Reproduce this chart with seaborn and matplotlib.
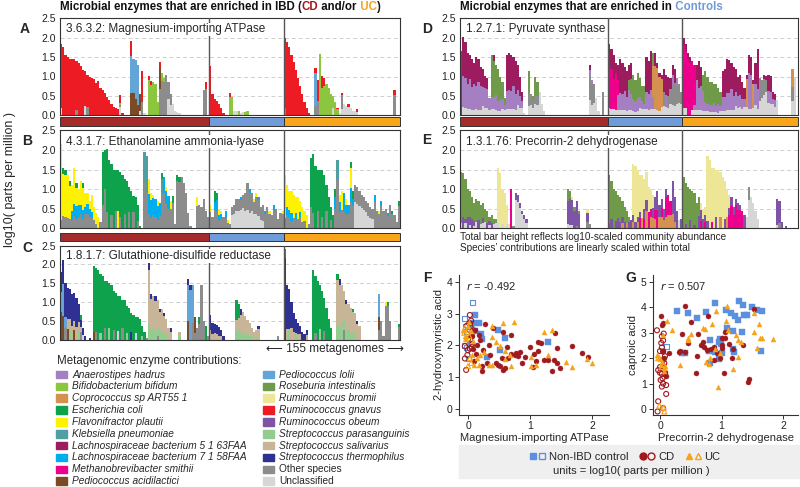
import re
import numpy as np
import pandas as pd
import matplotlib
matplotlib.use("Agg")
import matplotlib.pyplot as plt
import seaborn as sns
from matplotlib.patches import Rectangle
from matplotlib.lines import Line2D
from matplotlib.legend_handler import HandlerTuple

sns.set_theme(style="white")
plt.rcParams["font.family"] = ["Liberation Sans", "DejaVu Sans"]

W, H = 800, 487

# species code -> (legend name, colour)
SPECIES = {
    "a": ("Anaerostipes hadrus", "#a47fc2"),
    "b": ("Bifidobacterium bifidum", "#8cc63e"),
    "c": ("Coprococcus sp ART55 1", "#d4914f"),
    "e": ("Escherichia coli", "#0fa24c"),
    "f": ("Flavonifractor plautii", "#fff200"),
    "k": ("Klebsiella pneumoniae", "#4f9ea2"),
    "l": ("Lachnospiraceae bacterium 5 1 63FAA", "#9d1c5f"),
    "m": ("Lachnospiraceae bacterium 7 1 58FAA", "#00aeef"),
    "M": ("Methanobrevibacter smithii", "#ec008c"),
    "p": ("Pediococcus acidilactici", "#7a4b25"),
    "P": ("Pediococcus lolii", "#64a5d7"),
    "r": ("Roseburia intestinalis", "#6f9a49"),
    "B": ("Ruminococcus bromii", "#eee697"),
    "g": ("Ruminococcus gnavus", "#ed1c24"),
    "o": ("Ruminococcus obeum", "#7e55a6"),
    "s": ("Streptococcus parasanguinis", "#93cc8f"),
    "S": ("Streptococcus salivarius", "#c8b597"),
    "t": ("Streptococcus thermophilus", "#2e3192"),
    "x": ("Other species", "#8c8c8c"),
    "u": ("Unclassified", "#d6d6d6"),
}
LEGEND_ORDER = list("abcefklmMpPrBgosStxu")
STACK_ORDER = list("uxpPksSacMomfrBltebg")   # bottom -> top

GROUP_N = [68, 34, 53]          # CD, non-IBD, UC metagenomes
STRIP_COLORS = ["#a52a2a", "#6f9bd8", "#f8a51c"]

# each bar: "height:composition" (composition = species code + relative weight, bottom->top)
A_CD = """1.84:u1g9 1.77:g 1.55:g 1.50:g 1.46:g 1.45:g 1.45:g 1.40:x1g9 1.35:g 1.28:g
1.18:g 1.15:u2g8 1.05:x2g8 1.00:g 0.95:g 0.93:g 0.82:g 0.89:g 0.70:g 0.66:g
0.58:g 0.48:g 0.40:g 0.30:g 0.22:g 0.18:g 0.15:g 0.52:u4x1b1g4 0.07:g 0 0 0
1.92:p3P5g2 1.45:p4P6 1.42:p3P7 1.30:p2P8 0.55:p8u2 1.15:x3g7 0.05:u 0.02:u
1.02:b9g1 0.88:b9g1 0.85:b 0.80:b 0.35:b 1.38:p4x5g1 1.10:x8b2 0.95:x9b1 1.03:x
0.85:u5x5 0.55:u5x5 0.30:u 0.10:u 0.08:u 0.05:u 0 0 0 0 0 0 0 0 0 0 0.65:x 0.85:x8g2 0"""
A_CTRL = """1.28:g 0.55:g 0.42:g 0.38:g 0.28:g 0.20:g 0.05:g 0 0 0.58:b8g2 0.48:b
0.10:u 0.12:u 0.10:b 0.05:u 0.08:u 0.08:b 0.10:b"""
A_UC = """2.00:x1g9 1.88:g 1.75:g 1.55:g 1.38:g 1.18:g 0.95:g 0.75:g 0.55:g 0.35:g 0.18:g
0.05:g 0 0 1.22:x2P7g1 0.90:x4g6 1.58:b 1.02:b7g3 0.95:b8g2 0.80:b 0.70:b 0.55:b
0.50:u4b6 0.35:b 0.20:b8g2 0.05:u 0.58:x6u3g1 0.30:u 0.25:u 0.30:u7g3 0.18:u 0.10:u
0.10:u 0.15:u6g4 0 0 0 0 0 0 0 0 0 0 0 0 0 0 0 0 0.65:x8g2 0 0"""

B_CD = """2.15:x1f9 1.55:x2f7e1 1.50:x2f7e1 1.35:x2f8 1.20:x2f7e1 1.10:x2m2f6 1.55:x2m2f6
1.15:x2m3f4e1 1.00:x3m3f4 1.20:x3m2f5 1.15:x2m2f5e1 0.90:x4m2f4 0.90:x4m3f3 0.70:x4m3f3
0.85:x3m2f5 0.55:x4f6 0.40:x3f7 0.30:f 0.15:x 1.95:x3e7 2.00:x5e5 2.02:x2e8 1.75:e
1.65:x2e8 1.50:e 1.48:x3e7 1.48:f3e7 1.45:x2e8 1.35:e 1.25:x3e7 1.20:e 1.05:x4e6 0.95:e
0.82:x5e5 0.80:e 0.60:x3e7 0.05:e 0 1.95:x6k4 1.85:x5k5 1.25:x3m4f3 0.90:x3m5f2
0.85:x4m5f1 0.75:x4m6 0.70:x3m5f2 0.65:x5m5 1.40:x6k3e1 1.30:x7m3 1.05:x6m3f1 0.82:x6m4
0.70:x7f3 0.82:x8e2 0.10:x 1.35:x9e1 1.30:x9e1 1.30:x 1.15:x 0.90:x 0.40:x 0.05:x 0 0
0.80:x7f3 0.60:x 0.55:x 0.75:x 0.45:x 0.30:x"""
B_CTRL = """0.60:x7f3 0.30:x 0.95:x5m2e3 0.90:x5m3e2 0.50:x4m3f3 0.45:x5m3f2 0.30:x 0.45:x6m4
0.20:x7f3 0.10:x 0.55:u6x4 0.60:u6x4 0.75:u6x4 0.75:u6x4 0.80:u6x3m1 0.85:u6x4 0.90:u5x5
1.15:u4x6 1.00:u4x5m1 0.90:u5x5 0.75:u5x4f1 0.90:u4x5f1 0.80:u4x5m1 0.55:u4x6 0.60:u3x7
0.45:x8m2 0.55:x 0.45:x8f2 0.35:x 0.60:x8m2 0.50:x 0.25:x 0.40:x 0.45:x8f2"""
B_UC = """1.35:x2f8 1.10:x3m2f5 0.95:x3m2f5 0.95:x2m2f6 0.85:x3f7 0.80:x3m2f5 0.80:x3f7
0.70:x4m2f4 0.55:x3f7 0.45:x4f6 0.35:f 0.10:x 1.80:x3e7 1.90:x2e8 1.60:e 1.50:x3e7 1.50:e
1.50:x2e8 1.35:e 1.10:x4e6 0.80:e 0.55:x4e6 0.35:e 1.00:x5m3e2 1.75:x7k3 0.85:x5m3f2
0.95:x5f5 0.90:x5m5 0.75:x5m3f2 0.60:x6m4 1.70:x4m2f3e1 0.95:x6m2e2 1.10:u6x4 1.05:u6x4
0.95:u6x4 0.85:u6x4 0.80:u6x4 0.70:u6x4 0.65:u5x5 0.55:u5x5 0.50:u5x5 0.85:x8m2 0.45:x
0.45:x8f2 0.70:x8m2 0.45:x 0.50:x 0.40:x8m2 0.60:x 0.45:x8e2 0.35:x 0.15:x 0.70:x8e2"""

C_CD = """1.80:p4P3t3 2.12:p3P4t3 1.50:x2P2t6 1.38:p2S2t6 1.35:s2S2t6 1.20:S3t7 1.25:p2S2t6
1.10:S3t7 0.95:s2S3t5 0.65:x3S2t3e2 0.30:u4t6 0.08:t 0 0.05:t 0 1.95:p1e9 1.90:x1e9 1.85:e
1.75:s1e9 1.70:e 1.55:x2e8 1.55:e 1.50:s2e8 1.45:e 1.30:x2e8 1.25:e 1.15:u2e8 1.15:e
1.05:x3e7 1.05:e 0.90:s2e8 0.85:e 0.70:t3e7 0.65:e 0.60:u3e7 0.60:e 0.55:e 0.35:s3e7 0.20:e
0.05:x 2.05:s2S7t1 1.20:s2S7t1 1.15:s3S7 1.15:s2S7t1 1.05:x1s2S7 0.80:s3S6t1 0.80:s2S8
0.70:s2S7t1 0.55:s3S7 0.30:S 0.30:S7t3 0 0 0 0.20:s5S5 0 0 0 1.60:p3P6t1 1.45:P9t1
1.45:x3P7 0.60:p7x3 0.30:x 0.60:x7e3 1.45:x 0.50:x 0.35:e 0.10:x"""
C_CTRL = """0.65:S4t6 0.45:S3t7 0.42:S4t6 0.38:S4t6 0.32:S3t7 0.25:S4t6 0.10:t 0 0 0 0 0
1.05:s2S3e5 0.95:s3S3e4 0.82:s2S6t2 0.72:s3S7 0.62:s2S8 0.52:s3S7 0.45:s2S8 0.30:s3S7
0.20:S 0.25:s3S7 0.35:S8t2 0 0 0 0 0 0 0 0 0.10:x"""
C_UC = """2.42:t9e1 1.45:S2t8 1.35:s2t8 1.00:S3t7 0.70:S3t7 0.55:s3t7 0.45:S3t7 0.35:S4t6
0.20:t 0.15:t 0.25:S5t5 0 0 1.85:e 1.70:x1e9 1.55:e 1.45:s2e8 1.30:e 1.10:x2e8 0.85:e
0.55:e 0.30:e 0 0 1.75:s2S7e1 1.60:s2S7t1 1.45:s3S7 1.30:x2s2S6 1.05:s2S7t1 0.95:s3S7
0.85:s2S8 0.80:s2S7e1 0.70:s3S7 0.50:S8t2 0.35:S 0 0 0 0 0 0 0 0 1.20:p3x2P5 0.50:x
0.10:x 1.00:x9f1 1.00:x9e1 0.50:x 0 0 0 0.40:x8e2"""

D_CD = """1.65:M 2.02:u1a4l5 1.90:u1a4l5 1.60:u1a4l5 1.55:u1a5l4 1.45:u1a4l5 1.35:u1a5l4
1.50:u1a4l5 1.45:u1a5l4 1.25:u1a5l4 1.20:u2a4l4 1.00:u2a5l3 0.95:u2a5l3 0.45:u3a7
1.55:u1a2r7 1.55:u1a2r6l1 1.30:u1a3r6 1.20:u1a2r7 1.00:u1a3r6 0.85:u2a3r5 0.45:u3a3r4
1.55:u1a3l6 1.60:u1a3l6 1.55:u1a3l6 1.50:u1a4l5 1.40:u1a3l6 1.30:u2a3l5 1.00:u2a3l5
0.60:u3a3l4 0.05:u 0 1.15:u2x3r5 0.55:u5x5 0.50:u4x4r2 1.00:u3x2r5 0.85:u3x3r4 0.60:u
0.30:u 0.10:u 0 0 0 0 0 0 0 0 0 0 0 0 0 0 0 0 0 0 0 0 1.30:u3x5a1l1 0.90:u3x6a1
0.80:u4x6 0.45:u 0.10:u 0 0.60:x 0 0"""
D_CTRL = """1.85:u1M6l3 1.70:u1M6l3 1.55:u1M5l4 1.35:u1M7l2 1.30:u1a3M3l3 1.45:u1a3l6
1.35:u1a3l6 1.25:u1a4l5 1.15:u1a3l6 1.30:u1a4r2l3 1.35:u1a3r3l3 1.05:u1a3r6 0.90:u1a3r6
1.10:u1a3r6 0.95:u2a3r5 0.75:u2a3r5 0.75:u2a2r6 1.50:u1a3l6 1.40:u1a3l6 1.65:u1a3l6
1.60:u1a2c5r2 1.60:u1c7l2 1.35:u1c8l1 1.10:u1c8l1 1.05:u2c7l1 1.20:u2x3l5 1.05:u2a3l5
1.00:u2x3l5 0.95:u3x4l3 1.30:u2x4a2l2 1.20:u2x5l3 0.95:u3x5a2 0.80:u4x6 0.60:u5x5"""
D_UC = """1.98:u1M8l1 1.85:u1M8l1 1.60:M9l1 1.50:M9l1 1.40:u1M9 1.30:u1M8a1 1.30:u1a6l3
1.40:u1a4l5 1.25:u1a5l4 1.05:u1a5r4 1.15:u1a2r7 1.00:u1a2r7 0.85:u1a2r7 0.85:u1a2r7
0.80:u1a3r6 0.80:u1a2r7 0.70:u1a3r6 0.60:u2a2r6 1.15:u1a3l6 1.20:u1a3l6 1.45:u1a3l6
1.42:u1a3l6 1.35:u1a4l5 1.25:u1a3l6 1.20:u2a3l5 1.00:u2a3l5 1.05:u2a3l5 0.85:u2a3l5
0.70:u3a3l4 1.05:u2c7l1 1.55:u1a6l3 1.50:u1a6l3 0.90:u2c7l1 1.35:u2a4l4 1.70:u1a3l6
0.95:u4x6 0.90:u5x5 1.05:u5x4l1 1.00:u6x3l1 1.05:u3a3l4 1.00:u3a3l4 0.60:u5a2l3 0.55:u4a3l3
0.40:u 0 0 0 0 0 0 1.20:u3x3c4 1.00:u 0"""

E_CD = """1.45:u1r9 1.40:o2r8 1.25:u1o1r8 1.00:o3r7 0.95:u1o2r7 0.80:o3r7 0.65:u1o2r7 0.75:u2r8
0.70:o3r7 0.60:u2r8 0.65:u2o2r6 0.50:u3r7 0.45:o3r7 0.30:u3o3r4 0.35:o4r6 0.25:u4r6
0.25:u5r5 1.55:u1B9 1.40:B 1.00:u1B9 0.90:B 0.60:u2B8 0.10:B 1.00:M 0.05:x 0.90:u8o2
0.85:u8o2 0.65:u8o2 0.45:u8o2 0.35:u7o3 0.25:u5o5 0 0 0 0 0 0 0 0 0 0 0 0 0 0 0 0 0 0
1.00:u1o6r3 0.95:u1o7r2 0.80:u1o8B1 0.55:o8r2 0.70:x1o9 0.45:o8r2 0 0 0 0.50:x3o5B2
0.10:x 0 0 0 0.02:o"""
E_CTRL = """1.35:o1r9 1.20:o2r8 1.00:r 0.95:o2r8 0.85:o3r7 0.80:o2r8 0.70:c2o2r6 0.55:o3r7
0.45:c3r7 0.30:o5r5 0.20:o 1.65:o1c1B8 1.60:o1B9 1.50:c1o1B8 1.35:M2o1B7 1.35:c2B8
1.25:o2M2B6 1.45:c3o2B5 1.05:M4B6 1.00:c3M2B5 0.85:o3c3B4 0.80:c3M3o4 0.95:M5o5 0.60:c5o5
0.75:c4M3o3 0.50:c4o6 1.00:c3M5o2 0.85:c4M6 0.70:c5M5 1.20:c3o7 0.80:c2o8 0.45:o 0.20:u
0.25:o"""
E_UC = """1.30:r 1.15:o1r9 1.05:r 1.00:o2r8 0.95:r 0.90:o1r9 0.65:r 0.80:o4r6 0.65:M3o4B3
0.50:o5B5 0.55:M3o3B4 1.85:o1B9 1.75:B 1.55:M1B9 1.55:B 1.50:o2B8 1.50:B 1.45:c2B8 1.30:B
1.20:o2B8 1.00:c3B7 0.85:M4o2B4 0.80:M7o3 0.55:M6o4 0.75:M8o2 0.65:M7o3 0.60:M8o2 0.45:M
0.35:o 0.30:u 1.05:u7x3 0.80:u 0.65:u 0.45:u 0.25:u 0 0 0 0 0 0 0 0 0.75:u1o9 0.70:o8x2
0.15:o 0 0.05:o"""

# scatter data (log10 ppm); "0" suffix = open markers
F_CTRL_X = [0.11, 0.21, 0.23, 0.31, 0.49, 0.51, 0.60, 1.28, 0.05, 0.12, 0.08, 0.18]
F_CTRL_Y = [2.96, 2.36, 2.20, 1.65, 2.49, 1.86, 2.25, 2.11, 2.60, 2.45, 2.70, 2.70]
F_CTRL0_X = [0.07, -0.05, -0.03, 0.00, -0.04, 0.02, 0.04, -0.02, 0.05, -0.05]
F_CTRL0_Y = [3.34, 2.85, 2.43, 1.58, 2.60, 2.20, 2.05, 1.95, 2.50, 2.00]
F_CD_X = [0.03, 0.27, 0.17, 0.20, 0.33, 0.23, 0.23, 0.40, 0.56, 0.70, 0.54, 0.49, 0.52,
          0.57, 0.60, 0.65, 0.69, 0.76, 0.78, 0.80, 0.83, 0.87, 0.92, 1.04, 1.06, 1.12,
          1.09, 1.12, 1.17, 1.22, 1.28, 1.36, 1.39, 1.40, 1.44, 1.44, 1.48, 1.68, 1.83,
          1.93, 0.08, 0.13, 0.10, 0.24, 0.36, 0.45, 0.62, 1.00, 0.15, 0.07, 0.12, 0.30]
F_CD_Y = [2.70, 2.69, 2.33, 2.17, 2.00, 1.34, 1.20, 2.54, 2.43, 2.33, 1.60, 1.39, 1.34,
          1.23, 1.28, 1.60, 1.73, 1.69, 1.75, 1.66, 1.79, 1.44, 1.65, 1.32, 1.72, 1.84,
          1.50, 2.10, 2.09, 1.55, 1.55, 1.20, 1.55, 2.40, 1.91, 1.44, 1.28, 1.98, 1.75,
          1.63, 1.90, 1.72, 1.50, 1.85, 1.70, 1.45, 1.95, 1.95, 2.00, 2.30, 2.50, 1.45]
F_CD0_X = [0.03, 0.02, 0.05, -0.05, -0.05, -0.03, 0.00, 0.03, 0.06, 0.00, 0.03, 0.06,
           -0.02, 0.04, 0.07, -0.01]
F_CD0_Y = [2.96, 2.70, 2.78, 1.98, 1.59, 1.23, 2.20, 2.48, 2.30, 1.85, 1.90, 1.95,
           2.62, 2.58, 2.05, 1.70]
F_UC_X = [0.38, 0.57, 0.74, 0.39, 0.51, 0.60, 0.60, 0.33, 0.38, 0.19, 0.17, 0.68, 1.02,
          1.02, 1.23, 1.36, 1.28, 1.58, 1.68, 1.91, 2.00, -0.08, -0.05, 0.00, 0.02, 0.05,
          -0.03, 0.08, 0.06, 0.10, 0.14, 0.26, 0.70, 0.45, 1.10]
F_UC_Y = [2.61, 2.72, 2.73, 2.26, 1.98, 1.83, 1.57, 1.39, 1.37, 1.70, 1.40, 1.70, 1.65,
          1.36, 2.43, 2.49, 1.70, 1.49, 1.31, 1.57, 1.46, 2.50, 2.30, 2.60, 2.75, 2.45,
          2.20, 2.15, 1.70, 1.40, 1.60, 1.80, 1.35, 2.10, 1.40]
F_UC0_X = [-0.06, -0.03, -0.05, 0.00, 0.02, 0.05, 0.00, 0.03]
F_UC0_Y = [2.40, 2.20, 2.55, 2.50, 2.30, 1.45, 1.35, 1.60]

G_CTRL_X = [0.27, 0.46, 0.60, 0.75, 0.90, 1.07, 1.15, 1.22, 1.26, 1.29, 1.34, 1.37, 1.42,
            1.50, 1.57, 1.65, 1.08, 1.18, 1.33, 0.81, 0.96, 0.98, 0.99, 0.89, 0.79, 1.18,
            1.20, 0.81, 0.95, 0.35, 1.64, 0.40, 1.00]
G_CTRL_Y = [3.85, 3.78, 3.59, 3.81, 4.19, 3.91, 3.78, 3.65, 3.49, 4.25, 4.08, 3.72, 3.72,
            4.02, 3.91, 3.85, 3.19, 3.06, 3.04, 2.71, 2.64, 2.77, 2.54, 2.25, 2.29, 2.38,
            2.25, 1.82, 1.98, 2.19, 2.28, 2.20, 2.20]
G_CTRL0_X = [0.10]
G_CTRL0_Y = [2.45]
G_CD_X = [0.02, 0.05, 0.41, 0.51, 0.78, 0.35, 0.61, 0.45, 0.66, 0.70, 0.72, 0.76, 0.82,
          0.33, 0.41, 0.14, 0.60, 0.58, 1.04, 0.88, 0.93, 1.00, 1.00, 1.12, 1.18, 1.34,
          1.17, 0.98, 1.44, 1.43, 1.52, 1.06, 1.06, 0.87, 0.30, 1.00, 0.05, 0.08, 0.07,
          0.10, 0.04]
G_CD_Y = [3.66, 3.40, 4.06, 3.42, 3.65, 2.94, 2.94, 2.58, 2.51, 2.64, 2.45, 2.32, 2.35,
          2.28, 2.25, 2.19, 2.08, 1.43, 1.40, 1.92, 2.20, 2.51, 2.81, 2.55, 2.38, 2.51,
          2.02, 1.99, 1.18, 1.07, 3.95, 3.04, 2.78, 2.45, 2.25, 2.40, 2.30, 1.45, 2.00,
          1.30, 3.30]
G_CD0_X = [-0.05, 0.03, 0.05, 0.03, 0.00, 0.05, 0.08, 0.05, 0.07, 0.05, -0.03, 0.00, 0.03,
           0.08, 0.04, 0.01, 0.05, 0.10, 0.03, 0.10, -0.03, 0.05, -0.04, 0.00, 0.06, 0.02]
G_CD0_Y = [3.10, 2.86, 2.70, 2.42, 2.28, 2.26, 2.08, 1.93, 1.80, 1.70, 1.53, 1.43, 1.38,
           1.38, 1.20, 1.14, 1.00, 0.94, 0.88, 0.59, 0.30, 0.03, -0.10, 1.65, 2.97, 2.60]
G_UC_X = [0.11, 0.19, 0.33, 0.46, 0.50, 0.73, 0.85, 0.91, 1.08, 1.07, 1.23, 1.27, 1.32,
          1.26, 0.94, 0.81, 0.75, 0.79, 1.52, 1.53, 1.57, 1.60, 1.62, 1.65, 1.83, 1.18,
          0.45, 0.89, 0.98, 0.70, 1.10, -0.05, -0.02, 0.00, 0.04, 0.02, 0.06, 0.07, 0.05, 0.08]
G_UC_Y = [3.46, 3.10, 1.73, 2.81, 2.94, 3.17, 3.34, 3.85, 4.04, 3.46, 2.91, 2.71, 2.64,
          2.03, 0.88, 2.02, 1.86, 1.79, 3.04, 3.80, 2.42, 3.36, 2.80, 2.80, 2.75, 1.56,
          2.70, 2.35, 2.20, 3.20, 3.10, 2.12, 2.05, 1.95, 1.85, 1.75, 1.60, 1.50, 2.90, 1.70]
G_UC0_X = [-0.01, 0.07, 0.03, -0.03, 0.06]
G_UC0_Y = [0.13, -0.10, 1.65, 2.00, 0.05]

CTRL_C, CD_C, UC_C = "#5b8fe0", "#9e1a1e", "#f7a21b"
PALETTE = {k: v[1] for k, v in SPECIES.items()}
N_BARS = sum(GROUP_N)


def parse_group(text, n):
    toks = text.split()
    toks = (toks + ["0"] * n)[:n]
    out = []
    for t in toks:
        if ":" not in t:
            out.append([])
            continue
        h, comp = t.split(":")
        parts = [(c, float(w) if w else 1.0) for c, w in re.findall(r"([A-Za-z])(\d*)", comp)]
        tot = sum(w for _, w in parts)
        out.append([(c, float(h) * w / tot) for c, w in parts])
    return out


def build_df(*groups):
    rows = []
    bars = []
    for text, n in zip(groups, GROUP_N):
        bars += parse_group(text, n)
    for i, segs in enumerate(bars):
        for c, v in segs:
            rows.append((i, c, v))
    return pd.DataFrame(rows, columns=["bar", "species", "value"])


def px_rect(left, top, right, bottom):
    return [left / W, 1 - bottom / H, (right - left) / W, (bottom - top) / H]


fig = plt.figure(figsize=(W / 100, H / 100), dpi=100)
renderer = fig.canvas.get_renderer()


def bar_panel(rect, df, label):
    ax = fig.add_axes(rect)
    sns.histplot(data=df, x="bar", weights="value", hue="species",
                 hue_order=STACK_ORDER[::-1], palette=PALETTE, multiple="stack",
                 discrete=True, binrange=(0, N_BARS - 1), shrink=1, alpha=1,
                 linewidth=0, legend=False, ax=ax)
    ax.set_xlim(-0.5, N_BARS - 0.5)
    ax.set_ylim(0, 2.5)
    ax.set_xticks([])
    ticks = [0, 0.5, 1.0, 1.5, 2.0, 2.5]
    ax.set_yticks(ticks)
    ax.set_yticklabels([f"{t:.1f}" for t in ticks])
    ax.tick_params(axis="y", length=0, labelsize=7.5, pad=3, colors="#222")
    ax.set_xlabel("")
    ax.set_ylabel("")
    ax.set_axisbelow(True)
    ax.yaxis.grid(True, linestyle=(0, (4, 3)), color="#cfcfcf", linewidth=0.7)
    for s in ax.spines.values():
        s.set_color("#333")
        s.set_linewidth(0.8)
    edges = np.cumsum(GROUP_N)[:-1] - 0.5
    for e in edges:
        ax.axvline(e, color="#555", linewidth=1.0, zorder=4)
    ax.text(0.017, 0.885, label, transform=ax.transAxes, fontsize=8.5, va="center",
            ha="left", zorder=6, bbox=dict(fc="white", ec="none", pad=0.6))
    return ax


def group_strip(rect):
    sax = fig.add_axes(rect)
    lefts = np.concatenate([[0], np.cumsum(GROUP_N)[:-1]]) - 0.5
    sax.barh(0, GROUP_N, left=lefts, height=1, color=STRIP_COLORS,
             edgecolor="#333", linewidth=0.7, align="center", clip_on=False)
    sax.set_xlim(-0.5, N_BARS - 0.5)
    sax.set_ylim(-0.5, 0.5)
    sax.axis("off")


# bar panels
bar_panel(px_rect(60, 18.3, 400, 115.3), build_df(A_CD, A_CTRL, A_UC),
          "3.6.3.2: Magnesium-importing ATPase")
group_strip(px_rect(60, 117.5, 400, 125.5))
bar_panel(px_rect(60, 130.4, 400, 228.3), build_df(B_CD, B_CTRL, B_UC),
          "4.3.1.7: Ethanolamine ammonia-lyase")
group_strip(px_rect(60, 233, 400, 240.8))
bar_panel(px_rect(60, 245.5, 400, 339.5), build_df(C_CD, C_CTRL, C_UC),
          "1.8.1.7: Glutathione-disulfide reductase")
bar_panel(px_rect(460, 18.3, 798, 115.3), build_df(D_CD, D_CTRL, D_UC),
          "1.2.7.1: Pyruvate synthase")
group_strip(px_rect(460, 117.5, 798, 125.5))
bar_panel(px_rect(460, 130.4, 798, 228.3), build_df(E_CD, E_CTRL, E_UC),
          "1.3.1.76: Precorrin-2 dehydrogenase")


def scatter_panel(rect, sets, xlim, ylim, yticks, xlabel, ylabel, rtext):
    ax = fig.add_axes(rect)
    for xs, ys, marker, color, filled in sets:
        if filled:
            sns.scatterplot(x=xs, y=ys, marker=marker, color=color, s=13,
                            edgecolor=color, linewidth=0.3, ax=ax)
        else:
            sns.scatterplot(x=xs, y=ys, marker=marker, color=color, s=13,
                            facecolor="none", edgecolor=color, linewidth=0.8, ax=ax)
    ax.set_xlim(*xlim)
    ax.set_ylim(*ylim)
    ax.set_xticks([0, 1, 2])
    ax.set_yticks(yticks)
    sns.despine(ax=ax)
    for s in ("left", "bottom"):
        ax.spines[s].set_color("#333")
        ax.spines[s].set_linewidth(0.8)
    ax.tick_params(bottom=True, left=True, length=3, width=0.7, labelsize=7.5,
                   pad=1.5, color="#333", labelcolor="#222")
    ax.set_xlabel(xlabel, fontsize=8, labelpad=1)
    ax.set_ylabel(ylabel, fontsize=8, labelpad=2)
    ax.text(0.05, 0.92, rtext, transform=ax.transAxes, fontsize=8, va="center")
    return ax


scatter_panel(px_rect(459, 275, 609, 415),
              [(F_CTRL_X, F_CTRL_Y, "s", CTRL_C, True), (F_CTRL0_X, F_CTRL0_Y, "s", CTRL_C, False),
               (F_CD_X, F_CD_Y, "o", CD_C, True), (F_CD0_X, F_CD0_Y, "o", CD_C, False),
               (F_UC_X, F_UC_Y, "^", UC_C, True), (F_UC0_X, F_UC0_Y, "^", UC_C, False)],
              (-0.145, 2.27), (-0.19, 4.22), [0, 1, 2, 3, 4],
              "Magnesium-importing ATPase", "2-hydroxymyristic acid", "$r$ = -0.492")
scatter_panel(px_rect(653, 275, 798, 415),
              [(G_CTRL_X, G_CTRL_Y, "s", CTRL_C, True), (G_CTRL0_X, G_CTRL0_Y, "s", CTRL_C, False),
               (G_CD_X, G_CD_Y, "o", CD_C, True), (G_CD0_X, G_CD0_Y, "o", CD_C, False),
               (G_UC_X, G_UC_Y, "^", UC_C, True), (G_UC0_X, G_UC0_Y, "^", UC_C, False)],
              (-0.114, 2.24), (-0.24, 5.28), [0, 1, 2, 3, 4, 5],
              "Precorrin-2 dehydrogenase", "caproic acid", "$r$ = 0.507")


def ftext(x, y, s, **kw):
    return fig.text(x / W, 1 - y / H, s, **kw)


def multicolor(x, y, parts, **kw):
    # pieces share one baseline; each starts where the previous one ended
    for s, c in parts:
        t = ftext(x, y, s, color=c, va="baseline", ha="left", **kw)
        x += t.get_window_extent(renderer).width


multicolor(60, 10, [("Microbial enzymes that are enriched in IBD (", "#111"), ("CD", "#a3191f"),
                    (" and/or", "#111"), (" UC", "#f7a21b"), (")", "#111")],
           fontsize=8.3, fontweight="bold")
multicolor(460, 10, [("Microbial enzymes that are enriched in", "#111"), (" Controls", "#6f9bd8")],
           fontsize=8.3, fontweight="bold")

for letter, x, y in [("A", 25, 29), ("B", 27, 141), ("C", 27, 248), ("D", 427, 29),
                     ("E", 427, 140), ("F", 427, 278), ("G", 631, 278)]:
    ftext(x, y, letter, fontsize=10, fontweight="bold", ha="center", va="center")

ftext(10, 180, "log10( parts per million )", rotation=90, fontsize=9, ha="center", va="center")
ftext(460, 237, "Total bar height reflects log10-scaled community abundance", fontsize=7.2, va="center")
ftext(460, 248, "Species\u2019 contributions are linearly scaled within total", fontsize=7.2, va="center")
ftext(335, 349, "\u27f5 155 metagenomes \u27f6", fontsize=8.5, ha="center", va="center")
ftext(57, 361, "Metagenomic enzyme contributions:", fontsize=8.3, va="center")

# species legend
for i, code in enumerate(LEGEND_ORDER):
    name, color = SPECIES[code]
    col, row = divmod(i, 10)
    x0 = 56 if col == 0 else 263
    yc = 374.5 + row * 11.85
    fig.patches.append(Rectangle((x0 / W, 1 - (yc + 3.8) / H), 10.5 / W, 7.6 / H,
                                 transform=fig.transFigure, color=color))
    style = "normal" if code in "xu" else "italic"
    ftext(x0 + 16, yc, name, fontsize=7.3, va="center", style=style)

# scatter legend box
fig.patches.append(Rectangle((459 / W, 1 - 478 / H), (W - 459) / W, 33 / H,
                             transform=fig.transFigure, color="#efefef", zorder=0))
mk = dict(ls="", ms=5)
h_ctrl = (Line2D([], [], marker="s", color=CTRL_C, **mk),
          Line2D([], [], marker="s", mfc="none", mec=CTRL_C, mew=1, **mk))
h_cd = (Line2D([], [], marker="o", color=CD_C, **mk),
        Line2D([], [], marker="o", mfc="none", mec=CD_C, mew=1, **mk))
h_uc = (Line2D([], [], marker="^", color=UC_C, **mk),
        Line2D([], [], marker="^", mfc="none", mec=UC_C, mew=1, **mk))
fig.legend([h_ctrl, h_cd, h_uc], ["Non-IBD control", "CD", "UC"], ncol=3,
           handler_map={tuple: HandlerTuple(ndivide=None, pad=0.2)},
           loc="center", bbox_to_anchor=(625 / W, 1 - 457 / H), frameon=False,
           fontsize=8, handlelength=1.4, columnspacing=1.0, handletextpad=0.3,
           borderpad=0, borderaxespad=0)
ftext(631, 471, "units = log10( parts per million )", fontsize=8, ha="center", va="center")

fig.savefig("out.png", dpi=100)
